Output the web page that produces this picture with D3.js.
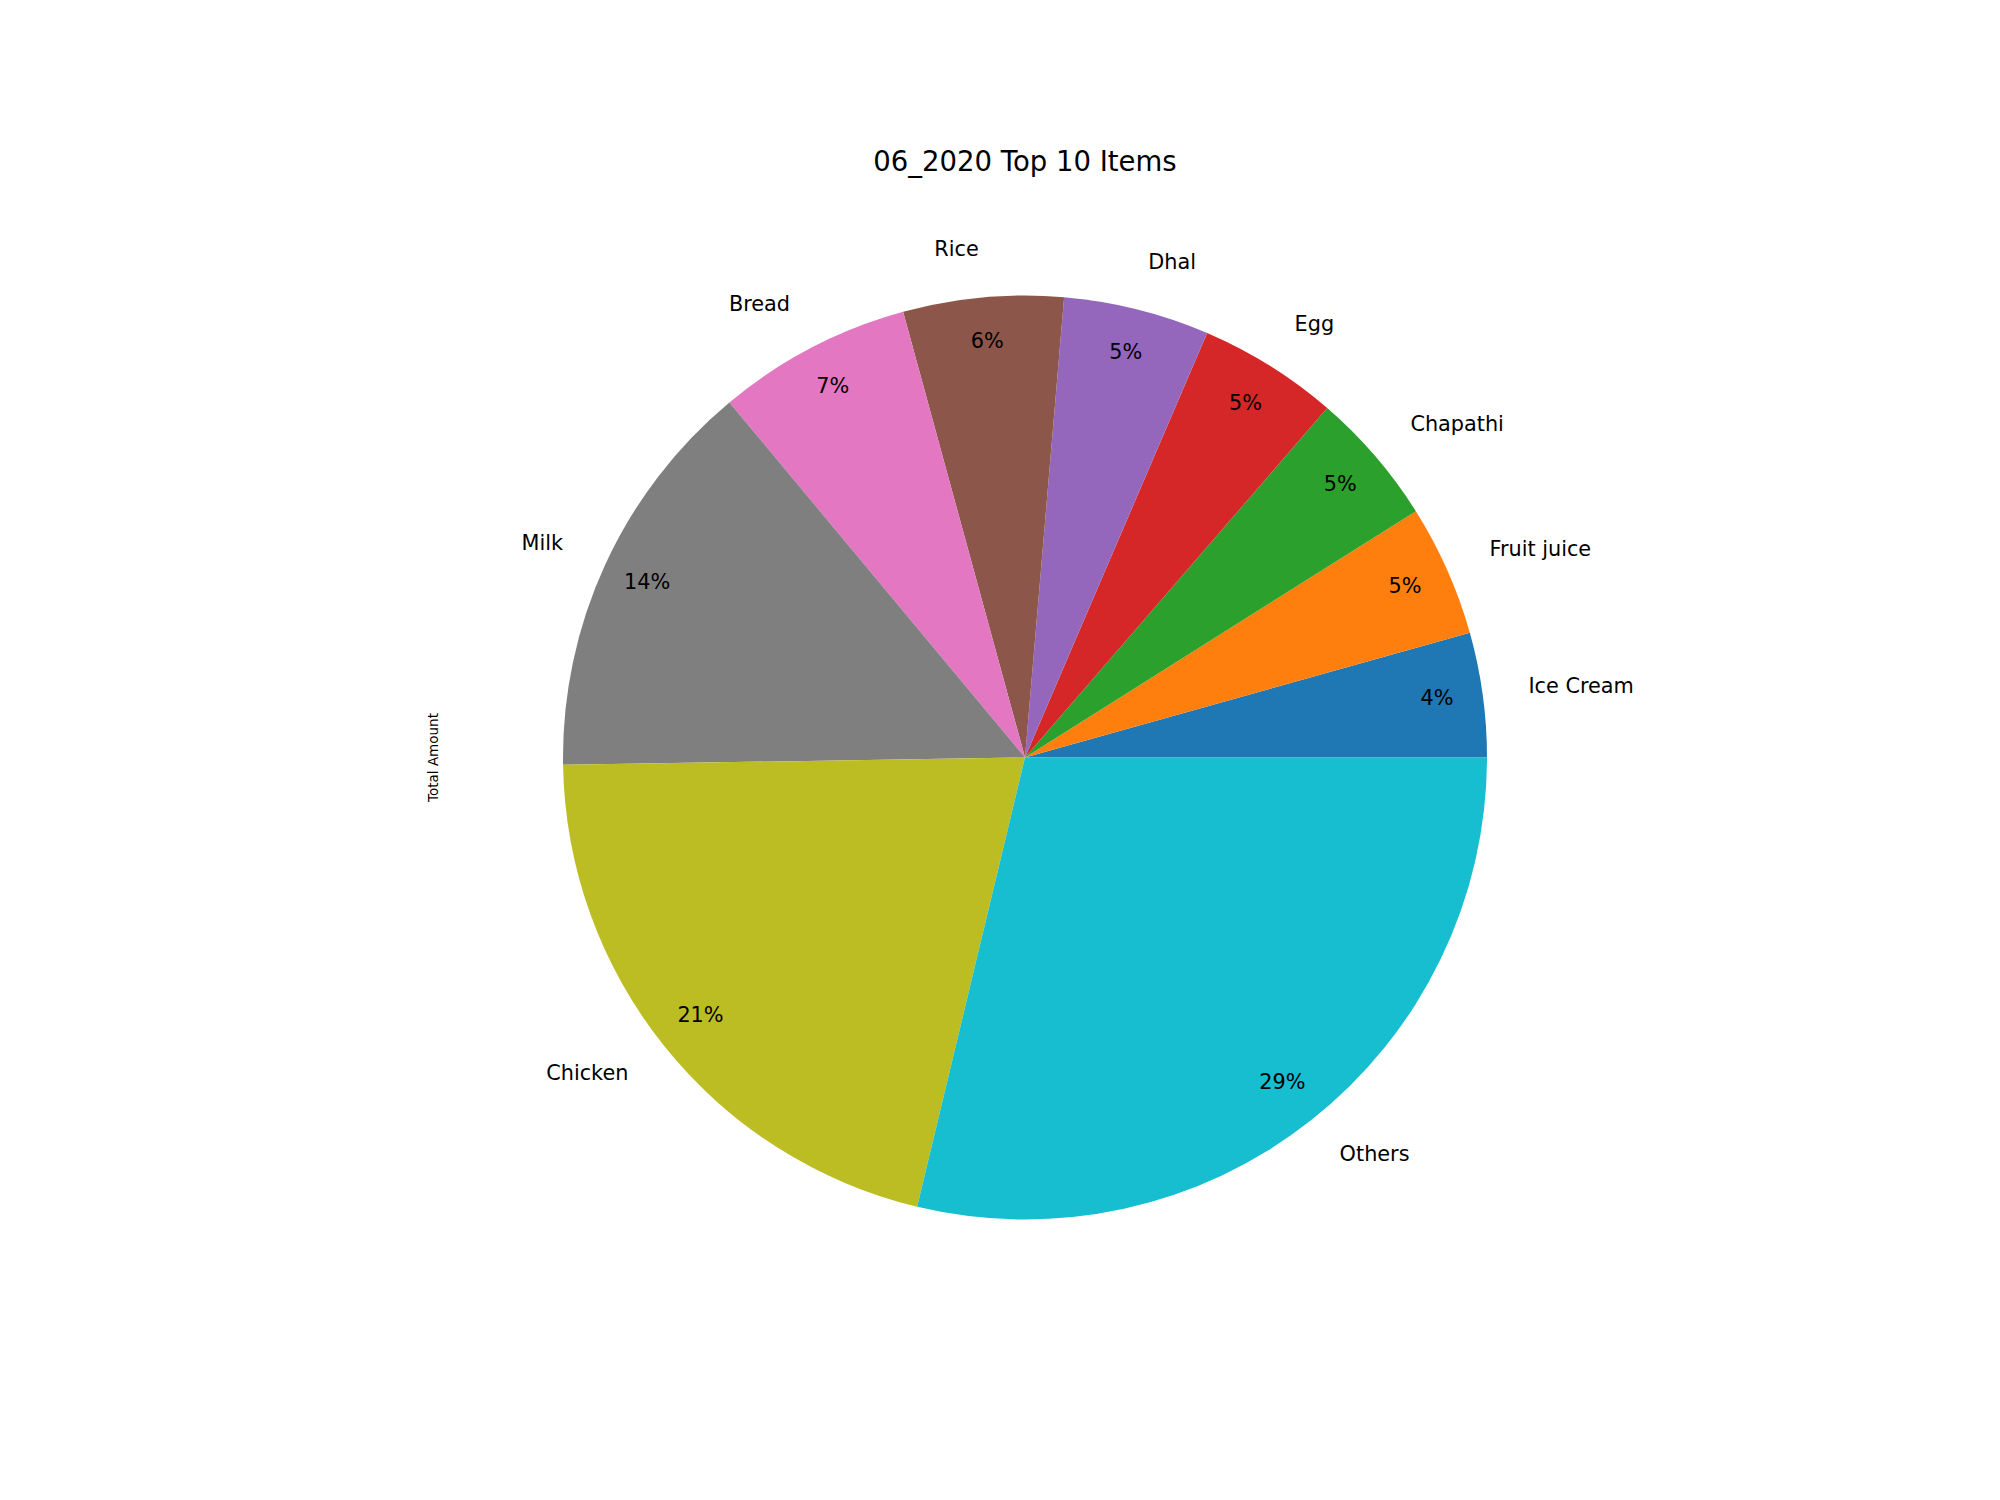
<!DOCTYPE html>
<html>
<head>
<meta charset="utf-8">
<script src="https://cdn.jsdelivr.net/npm/d3@7"></script>
<style>
  body { margin: 0; background: #fff; }
  svg text { font-family: "DejaVu Sans", sans-serif; fill: #000; }
</style>
</head>
<body>
<svg id="chart" width="2000" height="1500"></svg>
<script>
// pie data (matplotlib order: counter-clockwise from 3 o'clock)
const items   = ['Ice Cream', 'Fruit juice', 'Chapathi', 'Egg', 'Dhal', 'Rice', 'Bread', 'Milk', 'Chicken', 'Others'];
const amounts = [4350, 4600, 4700, 4900, 5100, 5600, 6800, 14200, 21000, 28750];
const colors  = ['#1f77b4', '#ff7f0e', '#2ca02c', '#d62728', '#9467bd', '#8c564b', '#e377c2', '#7f7f7f', '#bcbd22', '#17becf'];
const title   = '06_2020 Top 10 Items';
const yLabel  = 'Total Amount';

const svg = d3.select('#chart');
const cx = 1025, cy = 757.5, r = 462;

const data = items.map((name, i) => ({ name, value: amounts[i] }));
const total = d3.sum(amounts);

// d3 angles: 0 = 12 o'clock, clockwise -> start at 3 o'clock, go counter-clockwise
const pie = d3.pie()
  .value(d => d.value)
  .sort(null)
  .startAngle(Math.PI / 2)
  .endAngle(Math.PI / 2 - 2 * Math.PI);

const arcs = pie(data);
const arc = d3.arc().innerRadius(0).outerRadius(r);
const labelArc = d3.arc().innerRadius(r * 1.1).outerRadius(r * 1.1);
const pctArc = d3.arc().innerRadius(r * 0.9).outerRadius(r * 0.9);
const color = d3.scaleOrdinal().domain(items).range(colors);

const g = svg.append('g').attr('transform', `translate(${cx},${cy})`);

g.selectAll('path.slice')
  .data(arcs)
  .join('path')
    .attr('class', 'slice')
    .attr('d', arc)
    .attr('fill', d => color(d.data.name));

// outer labels
g.selectAll('text.label')
  .data(arcs)
  .join('text')
    .attr('class', 'label')
    .attr('x', d => labelArc.centroid(d)[0])
    .attr('y', d => labelArc.centroid(d)[1] - 2.5)
    .attr('text-anchor', d => labelArc.centroid(d)[0] > 0 ? 'start' : 'end')
    .attr('dominant-baseline', 'central')
    .style('font-size', '20.8px')
    .text(d => d.data.name);

// percentages
g.selectAll('text.pct')
  .data(arcs)
  .join('text')
    .attr('class', 'pct')
    .attr('x', d => pctArc.centroid(d)[0])
    .attr('y', d => pctArc.centroid(d)[1] - 2.5)
    .attr('text-anchor', 'middle')
    .attr('dominant-baseline', 'central')
    .style('font-size', '20.8px')
    .text(d => Math.round(d.data.value / total * 100) + '%');

// title
svg.append('text')
  .attr('x', cx)
  .attr('y', 171)
  .attr('text-anchor', 'middle')
  .style('font-size', '27.5px')
  .text(title);

// y label
svg.append('text')
  .attr('transform', `translate(438,${cy}) rotate(-90)`)
  .attr('text-anchor', 'middle')
  .style('font-size', '13.5px')
  .text(yLabel);
</script>
</body>
</html>
